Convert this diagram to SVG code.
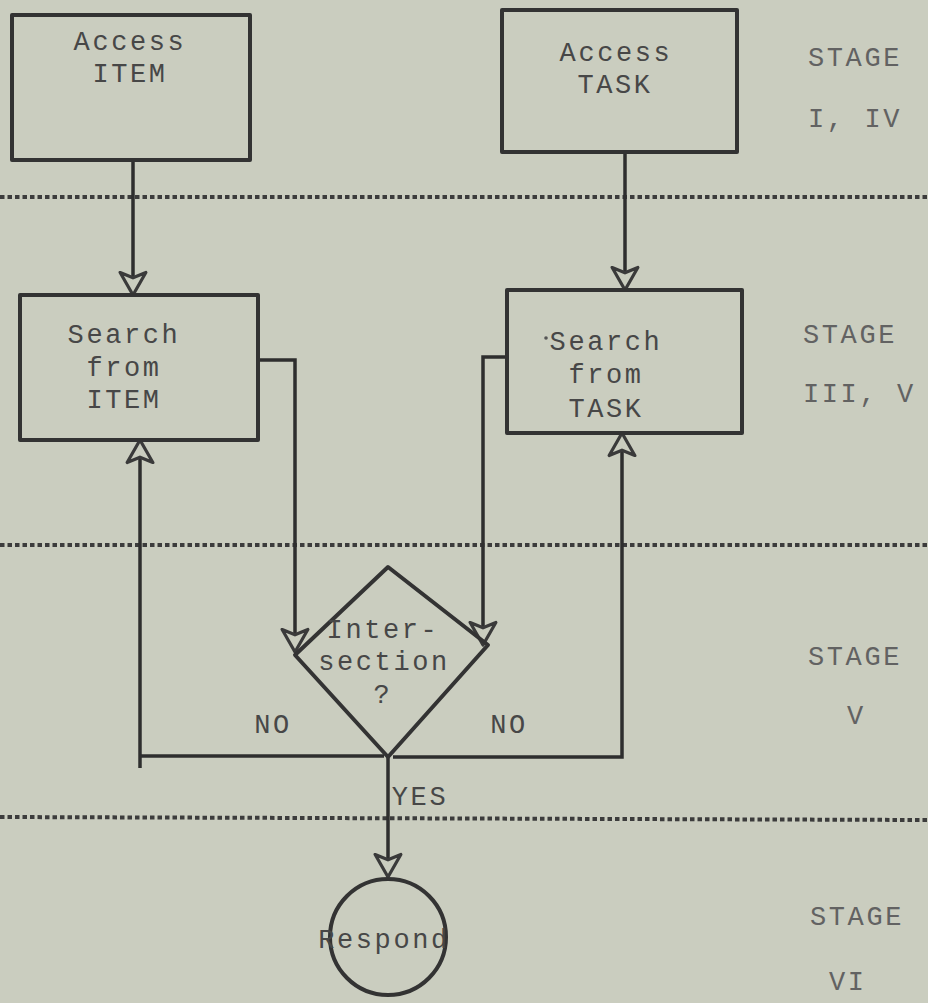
<svg xmlns="http://www.w3.org/2000/svg" width="928" height="1003" viewBox="0 0 928 1003">
<defs>
<style>
.bg{fill:#cacdbf}
.box{fill:none;stroke:#333;stroke-width:4;stroke-linejoin:round}
.ln{fill:none;stroke:#2e2e2e;stroke-width:3.5}
.dot{fill:none;stroke:#3c3c3c;stroke-width:4;stroke-dasharray:4.5 3}
.t{font-family:"Liberation Mono","DejaVu Sans Mono",monospace;font-size:27px;letter-spacing:2.6px;fill:#474747;text-anchor:middle}
.s{font-family:"Liberation Mono","DejaVu Sans Mono",monospace;font-size:27px;letter-spacing:2.6px;fill:#626262}
</style>
<marker id="arr" markerUnits="userSpaceOnUse" markerWidth="30" markerHeight="30" viewBox="-2 -14 26 28" refX="21" refY="0" orient="auto">
<path d="M0,-12 L21,0 L0,12 L5,0 Z" fill="#cacdbf" stroke="#3a3a3a" stroke-width="3" stroke-linejoin="round"/>
</marker>
</defs>
<rect class="bg" x="0" y="0" width="928" height="1003"/>

<g id="dividers">
<line class="dot" x1="0" y1="197" x2="928" y2="197"/>
<line class="dot" x1="0" y1="545" x2="928" y2="545"/>
<line class="dot" x1="0" y1="817" x2="928" y2="820"/>
</g>

<g id="connectors">
<path class="ln" d="M133,160 V295" marker-end="url(#arr)"/>
<path class="ln" d="M625,152 V290" marker-end="url(#arr)"/>
<path class="ln" d="M258,360 H295 V652" marker-end="url(#arr)"/>
<path class="ln" d="M507,357 H483 V645" marker-end="url(#arr)"/>
<path class="ln" d="M140,768 V440" marker-end="url(#arr)"/>
<path class="ln" d="M140,756 H384"/>
<path class="ln" d="M393,757 H622 V433" marker-end="url(#arr)"/>
<path class="ln" d="M388,757 V877" marker-end="url(#arr)"/>
</g>

<g id="access-item">
<rect class="box" x="12" y="15" width="238" height="145"/>
<text class="t" x="130" y="50">Access</text>
<text class="t" x="130" y="82">ITEM</text>
</g>

<g id="access-task">
<rect class="box" x="502" y="10" width="235" height="142"/>
<text class="t" x="616" y="61">Access</text>
<text class="t" x="615" y="93">TASK</text>
</g>

<g id="search-item">
<rect class="box" x="20" y="295" width="238" height="145"/>
<text class="t" x="124" y="343">Search</text>
<text class="t" x="124" y="376">from</text>
<text class="t" x="124" y="408">ITEM</text>
</g>

<g id="search-task">
<rect class="box" x="507" y="290" width="235" height="143"/>
<circle cx="546" cy="338" r="1.8" fill="#555"/>
<text class="t" x="606" y="350">Search</text>
<text class="t" x="606" y="383">from</text>
<text class="t" x="606" y="417">TASK</text>
</g>

<g id="intersection">
<polygon class="box" points="388,567 488,645 388,757 295,655"/>
<text class="t" x="383" y="638">Inter-</text>
<text class="t" x="384" y="670">section</text>
<text class="t" x="383" y="703">?</text>
</g>

<g id="respond">
<circle class="box" cx="388" cy="937" r="58"/>
<text class="t" x="384" y="948">Respond</text>
</g>

<g id="edge-labels">
<text class="t" x="273" y="733">NO</text>
<text class="t" x="509" y="733">NO</text>
<text class="t" x="420" y="805">YES</text>
</g>

<g id="stages">
<text class="s" x="808" y="66">STAGE</text>
<text class="s" x="808" y="127">I, IV</text>
<text class="s" x="803" y="343">STAGE</text>
<text class="s" x="803" y="402">III, V</text>
<text class="s" x="808" y="665">STAGE</text>
<text class="s" x="847" y="724">V</text>
<text class="s" x="810" y="925">STAGE</text>
<text class="s" x="829" y="990">VI</text>
</g>
</svg>
